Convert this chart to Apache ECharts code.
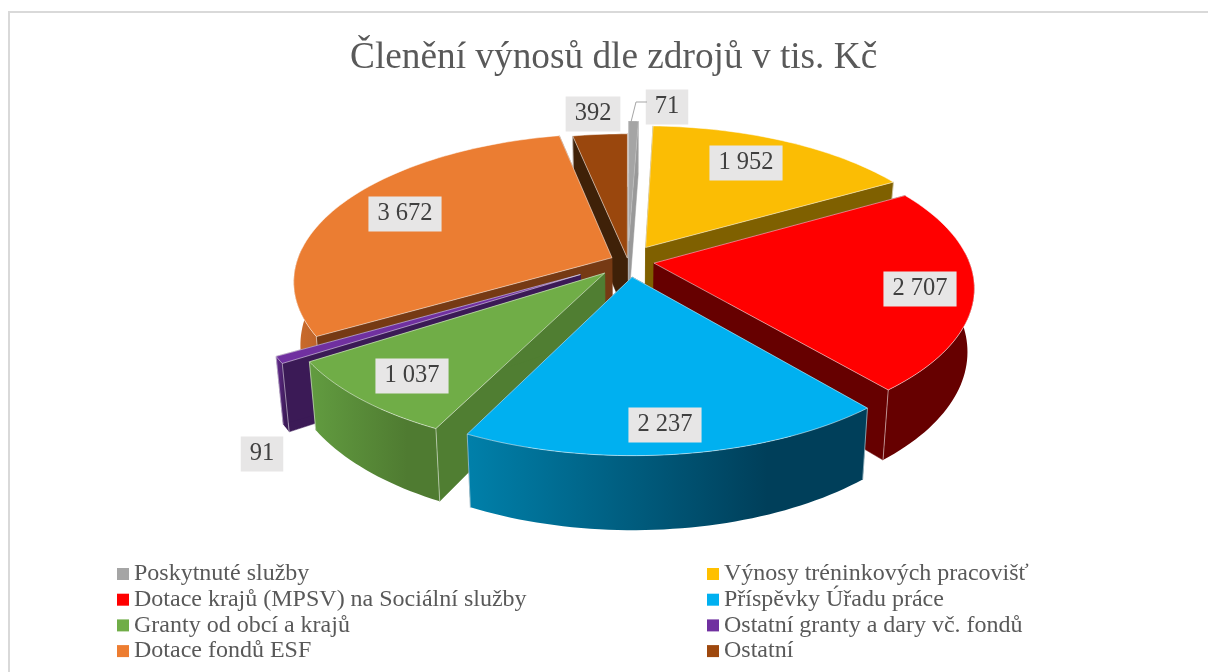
<!DOCTYPE html>
<html lang="cs">
<head>
<meta charset="UTF-8">
<title>Členění výnosů</title>
<script src="https://cdn.jsdelivr.net/npm/echarts@6/dist/echarts.min.js"></script>
<style>
  html, body { margin: 0; padding: 0; background: #fff; }
  #main { width: 1208px; height: 672px; }
</style>
</head>
<body>
<div id="main"></div>
<script type="text/javascript">
var categories = ['Poskytnuté služby', 'Výnosy tréninkových pracovišť', 'Dotace krajů (MPSV) na Sociální služby',
  'Příspěvky Úřadu práce', 'Granty od obcí a krajů', 'Ostatní granty a dary vč. fondů', 'Dotace fondů ESF', 'Ostatní'];
var values = [71, 1952, 2707, 2237, 1037, 91, 3672, 392];
var colors = ['#A5A5A5', '#FFC000', '#FF0000', '#00B0F0', '#70AD47', '#7030A0', '#ED7D31', '#9E480E'];

// slice look, same order as categories
var explode = [0.14, 0.11, 0.0835, 0.11, 0.11, 0.175, 0.056, 0.02];
var topColors = ['#A5A5A5', '#FBBD04', '#FF0000', '#00B0F0', '#70AD47', '#7030A0', '#EB7D32', '#9A470D'];
var radialColors = ['#999999', '#7F6000', '#660000', '#004560', '#507E32', '#3B1A56', '#763A14', '#3F2108'];
var wallLeft = ['#999999', '#7F6000', '#660000', '#0080AA', '#629C40', '#652D90', '#CC6C2B', '#7A3A0C'];
var wallRight = ['#999999', '#7F6000', '#660000', '#003F5A', '#4F7B31', '#3B1A56', '#C0652A', '#7A3A0C'];
var labelPos = [[667, 107], [746, 163], [920, 289], [665, 425], [412, 376], [262, 454], [405, 214], [593, 114]];
var drawOrder = [7, 0, 1, 6, 2, 5, 4, 3];

// projection of the pie plane
var cx = 628, cy = 261, scaleX = 315, scaleY = 144.8, persp = 0.1576, depth = 61.5, depthShrink = 0.98;
var FONT = '"Liberation Serif", "Times New Roman", serif';

var total = values.reduce(function (a, b) { return a + b; }, 0);

function project(u, v) {
  var w = 1 + persp * v;
  return [cx + scaleX * u / w, cy - scaleY * v / w];
}
function dropDown(p, u, v) {
  var w = 1 + persp * v;
  return [cx + (p[0] - cx) * depthShrink, p[1] + depth / w];
}
function sliceAngles(i) {
  var before = 0;
  for (var k = 0; k < i; k++) before += values[k];
  return [before / total * 2 * Math.PI, (before + values[i]) / total * 2 * Math.PI];
}

function renderSlice(i) {
  var ang = sliceAngles(i);
  var mid = (ang[0] + ang[1]) / 2;
  var ox = explode[i] * Math.sin(mid), oy = explode[i] * Math.cos(mid);
  var top = [], bottom = [], frontTop = [], frontBottom = [];
  var steps = Math.max(4, Math.ceil((ang[1] - ang[0]) * 40));
  for (var s = 0; s <= steps; s++) {
    var a = ang[0] + (ang[1] - ang[0]) * s / steps;
    var u = ox + Math.sin(a), v = oy + Math.cos(a);
    var p = project(u, v);
    var b = dropDown(p, u, v);
    top.push(p);
    bottom.push(b);
    // only the part of the rim facing the viewer gets a wall
    if (a > 85 * Math.PI / 180 && a < 275 * Math.PI / 180) {
      frontTop.push(p);
      frontBottom.push(b);
    }
  }
  var apexTop = project(ox, oy);
  var apexBot = dropDown(apexTop, ox, oy);
  var children = [];
  var edge = i === 0 ? 'rgba(255,255,255,0.2)' : 'rgba(255,255,255,0.5)';
  function poly(points, fill, stroke, lw) {
    children.push({ type: 'polygon', shape: { points: points }, style: { fill: fill, stroke: stroke || fill, lineWidth: lw === undefined ? 0.5 : lw } });
  }
  // radial faces
  poly([apexTop, top[0], bottom[0], apexBot], radialColors[i]);
  poly([apexTop, top[steps], bottom[steps], apexBot], radialColors[i]);
  // outer wall
  if (frontTop.length > 1) {
    var xs = frontTop.concat(frontBottom).map(function (p) { return p[0]; });
    var fill = {
      type: 'linear', global: true,
      x: Math.min.apply(null, xs), y: 0, x2: Math.max.apply(null, xs), y2: 0,
      colorStops: [{ offset: 0, color: wallLeft[i] }, { offset: 0.75, color: wallRight[i] }, { offset: 1, color: wallRight[i] }]
    };
    poly(frontTop.concat(frontBottom.slice().reverse()), fill, 'none', 0);
  }
  // corner edges
  [0, steps].forEach(function (k) {
    children.push({ type: 'line', shape: { x1: top[k][0], y1: top[k][1], x2: bottom[k][0], y2: bottom[k][1] }, style: { stroke: edge, lineWidth: 1 } });
  });
  // top face
  poly([apexTop].concat(top), topColors[i], edge, 1);
  return { type: 'group', children: children };
}

var series = drawOrder.map(function (i) {
  return {
    name: categories[i],
    type: 'custom',
    coordinateSystem: 'none',
    silent: true,
    itemStyle: { color: colors[i] },
    data: [[values[i]]],
    renderItem: function () { return renderSlice(i); }
  };
});

// data labels sit above every slice
series.push({
  name: 'labels',
  type: 'custom',
  coordinateSystem: 'none',
  silent: true,
  z: 10,
  data: values.map(function (v, i) { return [v, i]; }),
  renderItem: function (params, api) {
    var i = api.value(1);
    var txt = String(api.value(0)).replace(/\B(?=(\d{3})+$)/g, ' ');
    return {
      type: 'text',
      style: {
        text: txt, x: labelPos[i][0], y: labelPos[i][1],
        align: 'center', verticalAlign: 'middle',
        font: '24.5px ' + FONT, fill: '#404040',
        backgroundColor: '#E7E6E6', padding: [5, 9, 5, 9]
      }
    };
  }
});

var legendText = { fontFamily: FONT, fontSize: 24, lineHeight: 24, color: '#595959' };
var legendLeft = [categories[0], categories[2], categories[4], categories[6]];
var legendRight = [categories[1], categories[3], categories[5], categories[7]];

var chart = echarts.init(document.getElementById('main'));
chart.setOption({
  animation: false,
  backgroundColor: '#fff',
  title: {
    text: 'Členění výnosů dle zdrojů v tis. Kč',
    left: 345, top: 35,
    textStyle: { fontFamily: FONT, fontSize: 37.3, fontWeight: 'normal', color: '#595959' }
  },
  legend: [
    { data: legendLeft, orient: 'vertical', left: 112, top: 557, itemGap: 1.7, itemWidth: 12, itemHeight: 12, icon: 'rect', selectedMode: false, textStyle: legendText, itemStyle: { borderWidth: 0 } },
    { data: legendRight, orient: 'vertical', left: 702, top: 557, itemGap: 1.7, itemWidth: 12, itemHeight: 12, icon: 'rect', selectedMode: false, textStyle: legendText, itemStyle: { borderWidth: 0 } }
  ],
  graphic: [
    { type: 'polyline', silent: true, z: 20, shape: { points: [[647, 102], [636, 102], [631, 122]] }, style: { stroke: '#A5A5A5', lineWidth: 1, fill: 'none' } },
    { type: 'polyline', silent: true, z: -1, shape: { points: [[9, 672], [9, 12], [1208, 12]] }, style: { fill: 'none', stroke: '#D9D9D9', lineWidth: 2 } }
  ],
  series: series
});
</script>
</body>
</html>
